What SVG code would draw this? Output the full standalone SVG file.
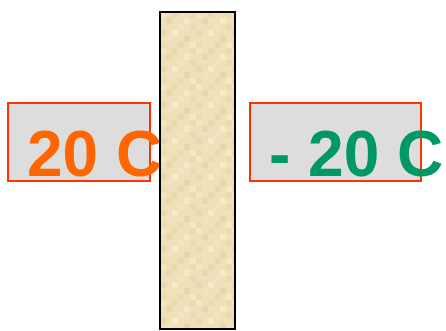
<svg xmlns="http://www.w3.org/2000/svg" width="446" height="331" viewBox="0 0 446 331">
<style>
.box{fill:#DDDDDD;stroke:#FF3300;stroke-width:2}
.lbl{font-family:"Liberation Sans",Arial,sans-serif;font-weight:bold;font-size:64px}
</style>
<defs>
<pattern id="tex" patternUnits="userSpaceOnUse" x="160" y="12" width="36" height="36">
<rect width="36" height="36" fill="#F0E0BA"/>
<rect x="0" y="0" width="6" height="6" fill="#F4E5C2"/>
<rect x="12" y="0" width="6" height="6" fill="#EAD8B1"/>
<rect x="24" y="6" width="6" height="6" fill="#F6E8C8"/>
<rect x="6" y="6" width="6" height="6" fill="#E9D6AE"/>
<rect x="18" y="12" width="6" height="6" fill="#F3E3BF"/>
<rect x="30" y="12" width="6" height="6" fill="#EBD9B2"/>
<rect x="0" y="18" width="6" height="6" fill="#E9D7AF"/>
<rect x="12" y="18" width="6" height="6" fill="#F7E9C9"/>
<rect x="24" y="24" width="6" height="6" fill="#E8D5AC"/>
<rect x="6" y="24" width="6" height="6" fill="#F2E1BC"/>
<rect x="18" y="30" width="6" height="6" fill="#EAD8B0"/>
<rect x="30" y="30" width="6" height="6" fill="#F5E6C4"/>
<rect x="0" y="30" width="6" height="6" fill="#EDDBB4"/>
<rect x="30" y="0" width="6" height="6" fill="#ECDAB3"/>
</pattern>
</defs>
<g id="left-node">
<rect class="box" x="8" y="103" width="142" height="78"/>
<text class="lbl" x="27" y="176" fill="#FF6600">20 C</text>
</g>
<g id="right-node">
<rect class="box" x="250" y="103" width="171" height="78"/>
<text class="lbl" x="269" y="176" fill="#009966">- 20 C</text>
</g>
<g id="wall">
<rect x="160" y="12" width="75" height="317" fill="url(#tex)" stroke="#000000" stroke-width="2"/>
</g>
<g id="connectors"/>
</svg>
